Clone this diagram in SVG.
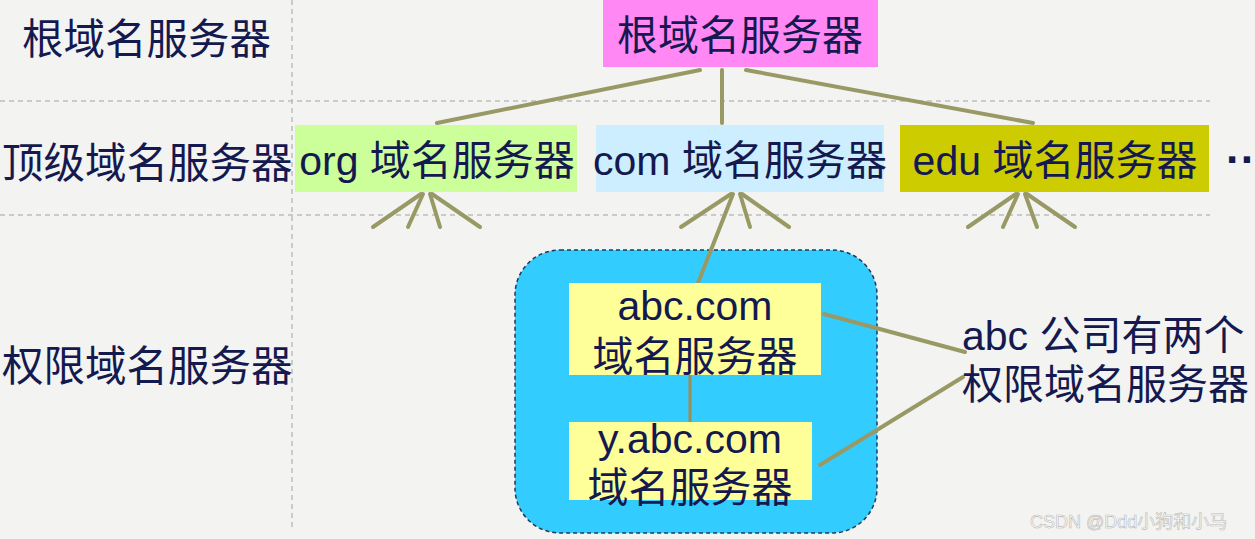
<svg xmlns="http://www.w3.org/2000/svg" width="1255" height="539" viewBox="0 0 1255 539">
<style>
text{font-family:"Liberation Sans","Noto Sans CJK SC",sans-serif;fill:#14194f;}
.t{font-size:41px;}
.lab{font-size:41.5px;}
.grid{stroke:#bdbdbd;stroke-width:1.5;stroke-dasharray:5 4;fill:none;}
.c{stroke:#999966;stroke-width:4;fill:none;stroke-linecap:round;}
</style>
<rect width="1255" height="539" fill="#f3f3f1"/>
<g id="grid">
<line class="grid" x1="0" y1="101" x2="1210" y2="101"/>
<line class="grid" x1="0" y1="215" x2="1210" y2="215"/>
<line class="grid" x1="292" y1="0" x2="292" y2="530"/>
</g>
<g id="labels">
<text class="lab" x="22" y="54">根域名服务器</text>
<text class="lab" x="2" y="178">顶级域名服务器</text>
<text class="lab" x="2" y="381">权限域名服务器</text>
</g>
<g id="group-abc">
<rect x="515" y="250" width="362" height="283" rx="45" fill="#33ccff" stroke="#1f3a5a" stroke-width="1.5" stroke-dasharray="4 3"/>
</g>
<g id="connectors">
<line class="c" x1="700" y1="70" x2="437" y2="123"/>
<line class="c" x1="722" y1="70" x2="722" y2="123"/>
<line class="c" x1="746" y1="70" x2="1033" y2="123"/>
<line class="c" x1="421" y1="194" x2="373" y2="227"/>
<line class="c" x1="423" y1="194" x2="408" y2="227"/>
<line class="c" x1="430" y1="194" x2="440" y2="227"/>
<line class="c" x1="432" y1="194" x2="480" y2="227"/>
<line class="c" x1="731" y1="194" x2="681" y2="227"/>
<line class="c" x1="733" y1="194" x2="698" y2="283"/>
<line class="c" x1="740" y1="194" x2="750" y2="227"/>
<line class="c" x1="742" y1="194" x2="789" y2="227"/>
<line class="c" x1="1016" y1="194" x2="968" y2="227"/>
<line class="c" x1="1018" y1="194" x2="1003" y2="227"/>
<line class="c" x1="1025" y1="194" x2="1037" y2="227"/>
<line class="c" x1="1027" y1="194" x2="1075" y2="227"/>
<line x1="690" y1="375" x2="690" y2="422" stroke="#a08a55" stroke-width="3"/>
<line class="c" x1="824" y1="314" x2="965" y2="352"/>
<line class="c" x1="820" y1="465" x2="963" y2="377"/>
</g>
<g id="root">
<rect x="603" y="0" width="275" height="67" fill="#ff88f5"/>
<text class="t" x="740" y="50" text-anchor="middle">根域名服务器</text>
</g>
<g id="org">
<rect x="295" y="125" width="282" height="67" fill="#ccff99"/>
<text class="t" x="437" y="175" text-anchor="middle">org 域名服务器</text>
</g>
<g id="com">
<rect x="596" y="125" width="288" height="67" fill="#cceeff"/>
<text class="t" x="740" y="175" text-anchor="middle">com 域名服务器</text>
</g>
<g id="edu">
<rect x="900" y="125" width="309" height="67" fill="#cccc00"/>
<text class="t" x="1055" y="175" text-anchor="middle">edu 域名服务器</text>
</g>
<g id="more">
<text x="1226" y="175" font-size="44" font-weight="bold">··</text>
</g>
<g id="abc">
<rect x="569" y="283" width="252" height="92" fill="#ffff99"/>
<text class="t" x="695" y="320" text-anchor="middle">abc.com</text>
<text class="t" x="695" y="371" text-anchor="middle">域名服务器</text>
</g>
<g id="yabc">
<rect x="569" y="422" width="243" height="78" fill="#ffff99"/>
<text class="t" x="690" y="453" text-anchor="middle">y.abc.com</text>
<text class="t" x="690" y="502" text-anchor="middle">域名服务器</text>
</g>
<g id="note">
<text class="t" x="962" y="350">abc 公司有两个</text>
<text class="t" x="962" y="399">权限域名服务器</text>
</g>
<g id="watermark">
<text x="1030" y="528" font-size="18" style="fill:#ffffff;stroke:#b8b8b8;stroke-width:0.6">CSDN @Ddd小狗和小马</text>
</g>
</svg>
